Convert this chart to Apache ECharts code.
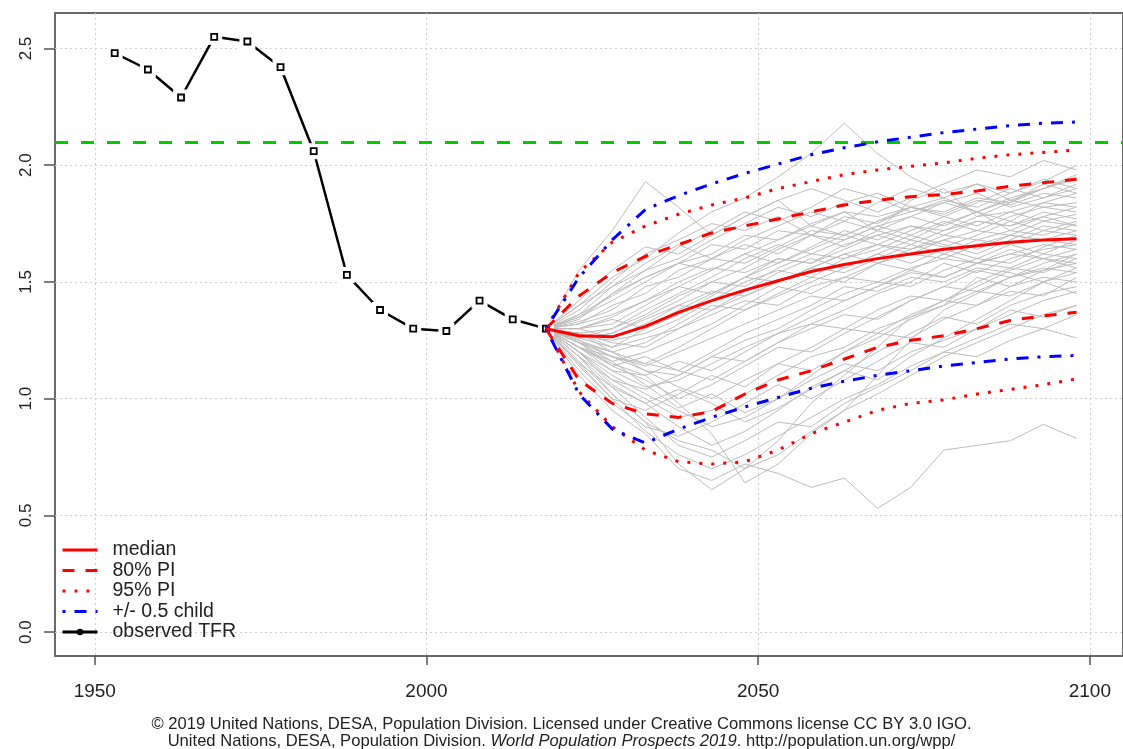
<!DOCTYPE html>
<html>
<head>
<meta charset="utf-8">
<script src="https://cdn.jsdelivr.net/npm/echarts@6/dist/echarts.min.js"></script>
<style>html,body{margin:0;padding:0;background:#fff;}#c{width:1123px;height:749px;}</style>
</head>
<body>
<div id="c"></div>
<script>
// ---------- data ----------
const xTicks = [1950, 2000, 2050, 2100];
const yTicks = [0, 0.5, 1, 1.5, 2, 2.5];

const obsYears = [1953, 1958, 1963, 1968, 1973, 1978, 1983, 1988, 1993, 1998, 2003, 2008, 2013, 2018];
const obsTFR   = [2.48, 2.41, 2.29, 2.55, 2.53, 2.42, 2.06, 1.53, 1.38, 1.30, 1.29, 1.42, 1.34, 1.30];

const projYears = [2018, 2023, 2028, 2033, 2038, 2043, 2048, 2053, 2058, 2063, 2068, 2073, 2078, 2083, 2088, 2093, 2098];
const median    = [1.30, 1.27, 1.265, 1.31, 1.37, 1.42, 1.465, 1.505, 1.545, 1.575, 1.60, 1.62, 1.64, 1.655, 1.67, 1.68, 1.685];
const pi80Upper = [1.30, 1.44, 1.54, 1.61, 1.66, 1.71, 1.74, 1.77, 1.80, 1.83, 1.85, 1.865, 1.875, 1.89, 1.91, 1.925, 1.94];
const pi80Lower = [1.30, 1.08, 0.98, 0.935, 0.92, 0.945, 1.02, 1.08, 1.12, 1.17, 1.22, 1.25, 1.27, 1.30, 1.335, 1.355, 1.37];
const pi95Upper = [1.30, 1.54, 1.67, 1.74, 1.79, 1.83, 1.86, 1.90, 1.93, 1.96, 1.98, 1.995, 2.01, 2.03, 2.045, 2.055, 2.065];
const pi95Lower = [1.30, 1.03, 0.88, 0.78, 0.73, 0.72, 0.73, 0.78, 0.85, 0.90, 0.95, 0.98, 0.995, 1.02, 1.04, 1.06, 1.085];
const halfChildUpper = [1.30, 1.52, 1.68, 1.81, 1.87, 1.92, 1.965, 2.005, 2.045, 2.075, 2.10, 2.12, 2.14, 2.155, 2.17, 2.18, 2.185];
const halfChildLower = [1.30, 1.02, 0.87, 0.81, 0.87, 0.92, 0.965, 1.005, 1.045, 1.075, 1.10, 1.12, 1.14, 1.155, 1.17, 1.18, 1.185];
const replacementTFR = 2.1;

// simulated trajectories (grey)
const trajectories = [
  [1.30,1.10,0.95,0.85,0.70,0.65,0.72,0.68,0.62,0.66,0.53,0.62,0.78,0.80,0.82,0.89,0.83],
  [1.30,1.55,1.72,1.93,1.82,1.70,1.78,1.85,1.74,1.80,1.72,1.85,1.90,1.78,1.84,1.92,1.88],
  [1.30,1.40,1.52,1.60,1.71,1.80,1.86,1.95,2.05,2.18,2.05,1.95,1.88,1.92,1.85,1.90,1.95],
  [1.30,1.22,1.15,1.10,0.98,0.85,0.64,0.72,0.85,0.95,1.10,1.25,1.38,1.45,1.52,1.55,1.62],
  [1.30,1.18,1.02,0.90,0.72,0.61,0.70,0.82,0.98,1.10,1.22,1.35,1.40,1.52,1.48,1.55,1.58],
  [1.30,1.35,1.42,1.50,1.58,1.62,1.70,1.68,1.75,1.80,1.78,1.82,1.79,1.85,1.83,1.88,1.86],
  [1.30,1.28,1.22,1.30,1.38,1.45,1.52,1.60,1.58,1.66,1.70,1.74,1.72,1.78,1.80,1.76,1.79],
  [1.30,1.25,1.18,1.12,1.10,1.18,1.25,1.30,1.38,1.45,1.50,1.48,1.55,1.60,1.58,1.65,1.70],
  [1.30,1.32,1.40,1.45,1.55,1.60,1.58,1.65,1.72,1.70,1.76,1.80,1.85,1.82,1.88,1.93,2.00],
  [1.30,1.20,1.08,1.00,0.92,0.95,1.02,1.10,1.18,1.22,1.30,1.35,1.42,1.40,1.48,1.52,1.50],
  [1.30,1.30,1.35,1.42,1.48,1.55,1.62,1.58,1.65,1.72,1.68,1.74,1.70,1.76,1.74,1.80,1.77],
  [1.30,1.24,1.20,1.24,1.32,1.40,1.38,1.45,1.52,1.50,1.58,1.62,1.60,1.66,1.70,1.68,1.72],
  [1.30,1.38,1.50,1.62,1.68,1.75,1.72,1.78,1.70,1.65,1.72,1.68,1.75,1.80,1.72,1.78,1.74],
  [1.30,1.15,1.00,0.95,1.02,1.10,1.05,1.15,1.22,1.30,1.28,1.36,1.42,1.48,1.55,1.60,1.58],
  [1.30,1.26,1.28,1.35,1.42,1.50,1.48,1.56,1.62,1.60,1.66,1.64,1.70,1.68,1.72,1.70,1.75],
  [1.30,1.22,1.12,1.05,1.08,1.15,1.22,1.28,1.35,1.42,1.48,1.55,1.52,1.58,1.62,1.66,1.64],
  [1.30,1.34,1.45,1.55,1.60,1.68,1.75,1.82,1.78,1.84,1.88,1.82,1.86,1.80,1.85,1.82,1.84],
  [1.30,1.20,1.10,1.02,0.95,0.88,0.92,1.00,1.08,1.15,1.12,1.20,1.25,1.30,1.38,1.35,1.40],
  [1.30,1.28,1.30,1.38,1.45,1.52,1.60,1.66,1.62,1.68,1.74,1.70,1.76,1.72,1.78,1.82,1.80],
  [1.30,1.25,1.20,1.15,1.22,1.30,1.38,1.44,1.50,1.56,1.62,1.58,1.64,1.60,1.66,1.62,1.68],
  [1.30,1.42,1.55,1.65,1.62,1.70,1.78,1.85,1.90,1.85,1.80,1.86,1.92,1.98,1.95,2.02,1.98],
  [1.30,1.18,1.05,0.92,0.80,0.75,0.82,0.90,0.88,0.98,1.05,1.12,1.20,1.18,1.25,1.30,1.26],
  [1.30,1.30,1.32,1.40,1.48,1.45,1.52,1.58,1.64,1.70,1.66,1.72,1.78,1.74,1.80,1.84,1.88],
  [1.30,1.22,1.16,1.20,1.26,1.32,1.40,1.48,1.45,1.52,1.58,1.55,1.62,1.58,1.64,1.60,1.56],
  [1.30,1.36,1.44,1.52,1.58,1.55,1.62,1.68,1.74,1.70,1.76,1.82,1.78,1.84,1.90,1.86,1.92],
  [1.30,1.24,1.14,1.08,1.00,1.06,1.14,1.22,1.20,1.28,1.35,1.42,1.48,1.55,1.52,1.58,1.62],
  [1.30,1.30,1.26,1.32,1.40,1.38,1.46,1.54,1.60,1.56,1.62,1.68,1.65,1.70,1.76,1.72,1.70],
  [1.30,1.27,1.25,1.28,1.34,1.42,1.50,1.55,1.52,1.60,1.64,1.70,1.66,1.62,1.68,1.74,1.72],
  [1.30,1.33,1.38,1.48,1.52,1.60,1.66,1.62,1.70,1.76,1.72,1.78,1.74,1.80,1.76,1.84,1.82],
  [1.30,1.20,1.12,1.10,1.16,1.12,1.20,1.28,1.32,1.38,1.45,1.50,1.58,1.54,1.60,1.64,1.66],
  [1.30,1.26,1.22,1.26,1.30,1.36,1.42,1.40,1.48,1.52,1.50,1.56,1.60,1.58,1.62,1.60,1.64],
  [1.30,1.40,1.48,1.55,1.65,1.72,1.80,1.76,1.82,1.90,1.86,1.80,1.84,1.88,1.82,1.86,1.90],
  [1.30,1.15,1.05,0.98,0.88,0.80,0.86,0.95,1.05,1.12,1.20,1.28,1.35,1.32,1.40,1.45,1.48],
  [1.30,1.28,1.24,1.22,1.30,1.38,1.44,1.50,1.56,1.54,1.60,1.66,1.62,1.68,1.66,1.72,1.76],
  [1.30,1.32,1.36,1.42,1.50,1.56,1.54,1.60,1.58,1.64,1.70,1.66,1.72,1.76,1.74,1.78,1.82],
  [1.30,1.22,1.18,1.14,1.20,1.26,1.32,1.38,1.44,1.42,1.48,1.54,1.52,1.58,1.56,1.62,1.60],
  [1.30,1.35,1.45,1.52,1.58,1.66,1.64,1.72,1.70,1.78,1.75,1.82,1.80,1.86,1.84,1.90,1.94],
  [1.30,1.24,1.18,1.15,1.12,1.20,1.28,1.34,1.40,1.48,1.46,1.52,1.50,1.56,1.54,1.50,1.45],
  [1.30,1.26,1.28,1.34,1.40,1.46,1.44,1.50,1.56,1.62,1.58,1.64,1.68,1.64,1.70,1.68,1.66],
  [1.30,1.28,1.20,1.12,1.05,1.00,1.08,1.15,1.12,1.20,1.26,1.34,1.40,1.46,1.44,1.50,1.54],
  [1.30,1.16,1.02,0.90,0.82,0.78,0.70,0.76,0.86,0.95,1.02,1.10,1.18,1.24,1.30,1.36,1.40],
  [1.30,1.12,0.98,0.88,0.84,0.90,0.98,1.06,1.00,1.08,1.16,1.24,1.22,1.30,1.36,1.42,1.46],
  [1.30,1.24,1.16,1.06,0.96,1.02,0.94,1.00,1.10,1.20,1.28,1.26,1.34,1.40,1.46,1.44,1.52],
  [1.30,1.20,1.06,0.98,1.04,0.98,0.90,0.96,1.04,1.12,1.08,1.18,1.26,1.34,1.42,1.50,1.56],
  [1.30,1.36,1.48,1.58,1.66,1.60,1.68,1.74,1.80,1.76,1.84,1.90,1.86,1.92,1.88,1.94,1.90],
  [1.30,1.26,1.30,1.36,1.44,1.50,1.56,1.64,1.70,1.68,1.74,1.78,1.84,1.80,1.86,1.90,1.96],
  [1.30,1.18,1.08,1.04,1.10,1.18,1.16,1.24,1.30,1.36,1.34,1.42,1.48,1.46,1.52,1.56,1.54],
  [1.30,1.14,1.00,0.86,0.76,0.70,0.76,0.84,0.92,1.00,1.06,1.14,1.20,1.26,1.32,1.30,1.36],
  [1.30,1.30,1.34,1.30,1.36,1.44,1.52,1.50,1.56,1.62,1.66,1.62,1.68,1.72,1.70,1.76,1.74],
  [1.30,1.22,1.14,1.18,1.12,1.08,1.16,1.24,1.32,1.30,1.38,1.44,1.42,1.50,1.56,1.54,1.60]
];

// ---------- chart ----------
const FONT = '"Liberation Sans", Arial, sans-serif';
const pair = (xs, ys) => xs.map((x, i) => [x, ys[i]]);
const chart = echarts.init(document.getElementById('c'), null, {renderer: 'canvas'});

const greySeries = trajectories.map(t => ({
  type: 'line', data: pair(projYears, t), symbol: 'none', silent: true, z: 2,
  lineStyle: {color: '#bdbdbd', width: 1}
}));

function bandLine(name, values, color, dash, width, z) {
  return {
    name: name, type: 'line', data: pair(projYears, values), symbol: 'none', silent: true, z: z,
    color: color,
    lineStyle: {color: color, width: width, type: dash, cap: 'butt'}
  };
}

const option = {
  animation: false,
  backgroundColor: '#fff',
  textStyle: {fontFamily: FONT},
  grid: {left: 55, right: 0, top: 13, height: 643, show: true, borderColor: '#6a6a6a', borderWidth: 2, backgroundColor: 'transparent'},
  xAxis: {
    type: 'value', min: 1944, max: 2105,
    axisLine: {show: false, onZero: false},
    axisTick: {show: true, length: 9, customValues: xTicks, lineStyle: {color: '#555', width: 1.5}},
    axisLabel: {customValues: xTicks, fontSize: 19, color: '#222', margin: 26, fontFamily: FONT,
                formatter: v => String(v)},
    splitLine: {show: true, lineStyle: {color: '#cfcfcf', width: 1, type: [2, 3]}}
  },
  yAxis: {
    type: 'value', min: -0.102, max: 2.652,
    axisLine: {show: false, onZero: false},
    axisTick: {show: true, length: 11, customValues: yTicks, lineStyle: {color: '#555', width: 1.5}},
    axisLabel: {customValues: yTicks, rotate: 90, fontSize: 17, color: '#222', margin: 20, fontFamily: FONT,
                formatter: v => Number(v).toFixed(1)},
    splitLine: {show: true, lineStyle: {color: '#cfcfcf', width: 1, type: [2, 3]}}
  },
  legend: {
    orient: 'vertical', left: 61, top: 540, padding: 0, itemWidth: 35, itemHeight: 8, itemGap: 0.5,
    selectedMode: false,
    textStyle: {fontSize: 19.5, lineHeight: 18, color: '#222', fontFamily: FONT, padding: [0, 0, 0, 10]},
    lineStyle: {width: 3},
    data: [
      {name: 'median', itemStyle: {opacity: 0}},
      {name: '80% PI', itemStyle: {opacity: 0}},
      {name: '95% PI', itemStyle: {opacity: 0}},
      {name: '+/- 0.5 child', itemStyle: {opacity: 0}},
      {name: 'observed TFR'}
    ]
  },
  title: {
    left: 'center', top: 716, padding: 0,
    text: '{a|© 2019 United Nations, DESA, Population Division. Licensed under Creative Commons license CC BY 3.0 IGO.}\n' +
          '{a|United Nations, DESA, Population Division. }{i|World Population Prospects 2019}{a|. http://population.un.org/wpp/}',
    textStyle: {
      fontWeight: 'normal', fontSize: 16.6, lineHeight: 17, color: '#222', fontFamily: FONT,
      rich: {
        a: {fontSize: 16.6, lineHeight: 17, color: '#222', fontFamily: FONT},
        i: {fontSize: 16.6, lineHeight: 17, color: '#222', fontFamily: FONT, fontStyle: 'italic'}
      }
    }
  },
  series: [].concat(greySeries, [
    {
      name: 'observed TFR', type: 'line', data: pair(obsYears, obsTFR), symbol: 'none', silent: true, z: 3,
      color: '#000', lineStyle: {color: '#000', width: 2.5}
    },
    {
      type: 'scatter', data: pair(obsYears, obsTFR), symbol: 'rect', symbolSize: 16, silent: true, z: 4,
      itemStyle: {color: '#fff', opacity: 1}
    },
    {
      type: 'scatter', data: pair(obsYears, obsTFR), symbol: 'rect', symbolSize: 6, silent: true, z: 5,
      itemStyle: {color: '#fff', borderColor: '#000', borderWidth: 1.8, opacity: 1}
    },
    bandLine('median', median, '#ff0000', 'solid', 3, 8),
    bandLine('80% PI', pi80Upper, '#ff0000', [12, 11], 3, 7),
    bandLine('80% PI', pi80Lower, '#ff0000', [12, 11], 3, 7),
    bandLine('95% PI', pi95Upper, '#ff0000', [3, 9], 3, 7),
    bandLine('95% PI', pi95Lower, '#ff0000', [3, 9], 3, 7),
    bandLine('+/- 0.5 child', halfChildUpper, '#0000ff', [3, 9, 12, 9], 3, 7),
    bandLine('+/- 0.5 child', halfChildLower, '#0000ff', [3, 9, 12, 9], 3, 7),
    {
      type: 'line', data: [], silent: true, z: 6,
      markLine: {
        silent: true, symbol: 'none', label: {show: false},
        lineStyle: {color: '#00cc00', width: 3, type: [13, 13], cap: 'butt'},
        data: [{yAxis: replacementTFR}]
      }
    }
  ])
};
chart.setOption(option);
</script>
</body>
</html>
